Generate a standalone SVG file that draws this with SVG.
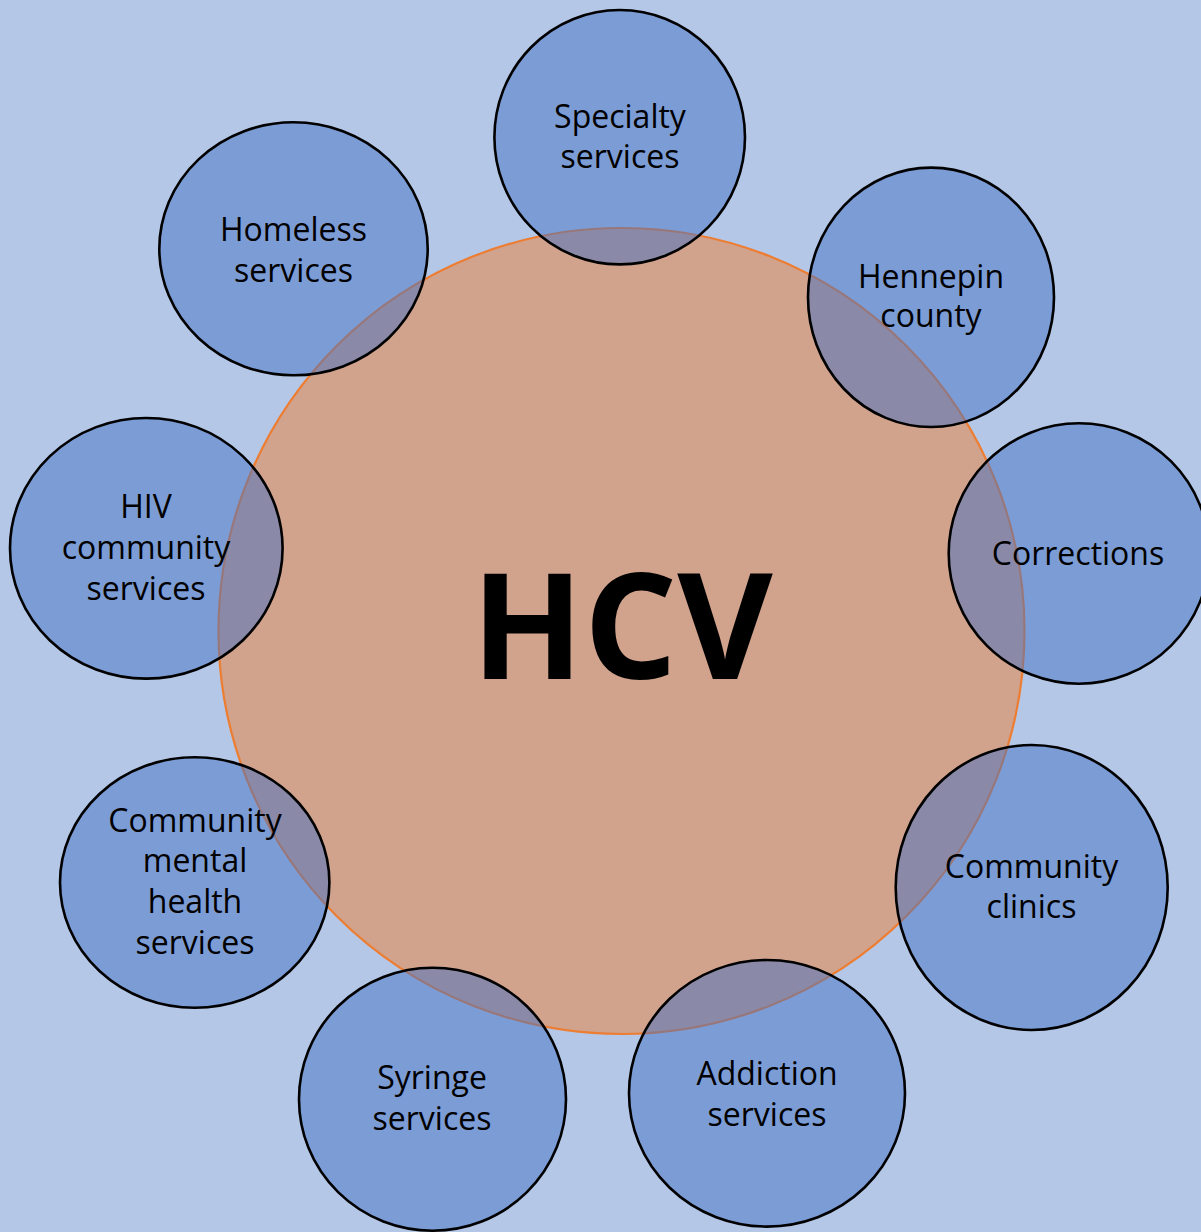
<svg xmlns="http://www.w3.org/2000/svg" width="1201" height="1232" viewBox="0 0 1201 1232">
  <style>
    .hub { fill: rgba(237,125,49,0.5); stroke: #ED7D31; stroke-width: 2.2; }
    .sat { fill: rgba(68,114,196,0.5); stroke: #000; stroke-width: 2.6; }
    .lbl { font-family: "Open Sans", "Liberation Sans", sans-serif; font-size: 32px; fill: #000; text-anchor: middle; }
    .title { font-family: "Open Sans", "Liberation Sans", sans-serif; font-weight: 700; font-size: 147px; fill: #000; text-anchor: middle; }
  </style>

  <!-- backdrop -->
  <rect x="0" y="0" width="1201" height="1232" fill="#B4C7E7"/>

  <!-- central hub -->
  <g id="hcv">
    <circle class="hub" cx="621.5" cy="631" r="403"/>
    <text class="title" x="622" y="679">HCV</text>
  </g>

  <!-- surrounding services -->
  <g id="specialty">
    <ellipse class="sat" cx="619.7" cy="137.2" rx="125.3" ry="127.2"/>
    <text class="lbl" x="620" y="128">Specialty</text>
    <text class="lbl" x="620" y="168">services</text>
  </g>

  <g id="hennepin">
    <ellipse class="sat" cx="931" cy="297.3" rx="123" ry="129.7"/>
    <text class="lbl" x="931" y="288">Hennepin</text>
    <text class="lbl" x="931" y="327">county</text>
  </g>

  <g id="corrections">
    <ellipse class="sat" cx="1079" cy="553.5" rx="130.3" ry="130.2"/>
    <text class="lbl" x="1078" y="565">Corrections</text>
  </g>

  <g id="clinics">
    <ellipse class="sat" cx="1031.7" cy="887.5" rx="136" ry="142.5"/>
    <text class="lbl" x="1031.5" y="878">Community</text>
    <text class="lbl" x="1031.5" y="918">clinics</text>
  </g>

  <g id="addiction">
    <ellipse class="sat" cx="767" cy="1093.3" rx="138" ry="133.3"/>
    <text class="lbl" x="767" y="1085">Addiction</text>
    <text class="lbl" x="767" y="1126">services</text>
  </g>

  <g id="syringe">
    <ellipse class="sat" cx="432.5" cy="1099.2" rx="133.5" ry="131.5"/>
    <text class="lbl" x="432" y="1089">Syringe</text>
    <text class="lbl" x="432" y="1130">services</text>
  </g>

  <g id="mental-health">
    <ellipse class="sat" cx="194.7" cy="882.5" rx="134.7" ry="125.2"/>
    <text class="lbl" x="195" y="832">Community</text>
    <text class="lbl" x="195" y="872">mental</text>
    <text class="lbl" x="195" y="913">health</text>
    <text class="lbl" x="195" y="954">services</text>
  </g>

  <g id="hiv">
    <ellipse class="sat" cx="146.3" cy="548.3" rx="136.3" ry="130.3"/>
    <text class="lbl" x="146" y="518">HIV</text>
    <text class="lbl" x="146" y="559">community</text>
    <text class="lbl" x="146" y="600">services</text>
  </g>

  <g id="homeless">
    <ellipse class="sat" cx="293.5" cy="248.8" rx="134.2" ry="126.5"/>
    <text class="lbl" x="293.5" y="241">Homeless</text>
    <text class="lbl" x="293.5" y="282">services</text>
  </g>

  <!-- no connectors: membership is shown by overlap -->
  <g id="connectors"/>
</svg>
